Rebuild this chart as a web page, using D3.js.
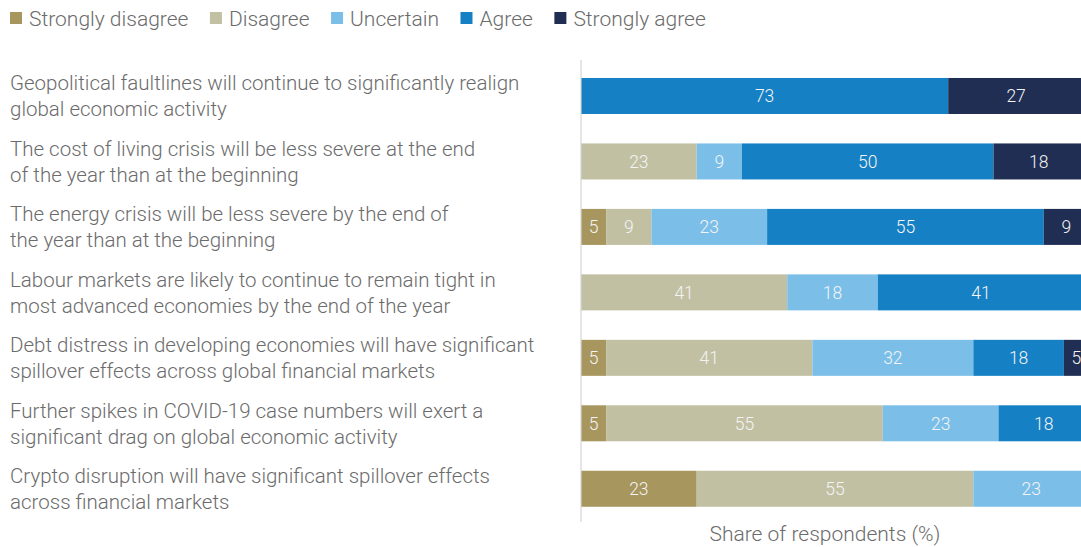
<!DOCTYPE html>
<html>
<head>
<meta charset="utf-8">
<script src="https://cdn.jsdelivr.net/npm/d3@7"></script>
<style>
  html, body { margin: 0; padding: 0; background: #fff; }
  svg { display: block; font-family: "Roboto", "Liberation Sans", sans-serif; }
</style>
</head>
<body>
<svg id="chart" width="1081" height="547"></svg>
<script>
// Survey statements (each wrapped onto two lines)
const statements = [
  ["Geopolitical faultlines will continue to significantly realign", "global economic activity"],
  ["The cost of living crisis will be less severe at the end", "of the year than at the beginning"],
  ["The energy crisis will be less severe by the end of", "the year than at the beginning"],
  ["Labour markets are likely to continue to remain tight in", "most advanced economies by the end of the year"],
  ["Debt distress in developing economies will have significant", "spillover effects across global financial markets"],
  ["Further spikes in COVID-19 case numbers will exert a", "significant drag on global economic activity"],
  ["Crypto disruption will have significant spillover effects", "across financial markets"]
];

const responses = ["Strongly disagree", "Disagree", "Uncertain", "Agree", "Strongly agree"];

// Share of respondents (%) per statement, one array per response
const stronglyDisagree = [0, 0, 5, 0, 5, 5, 23];
const disagree         = [0, 23, 9, 41, 41, 55, 55];
const uncertain        = [0, 9, 23, 18, 32, 23, 23];
const agree            = [73, 50, 55, 41, 18, 18, 0];
const stronglyAgree    = [27, 18, 9, 0, 5, 0, 0];

const colors = ["#a8965f", "#c1c0a3", "#7bbfe9", "#1580c3", "#1f2e52"];

const axisTitle = "Share of respondents (%)";

const rows = statements.map((s, i) => ({
  id: i,
  "Strongly disagree": stronglyDisagree[i],
  "Disagree": disagree[i],
  "Uncertain": uncertain[i],
  "Agree": agree[i],
  "Strongly agree": stronglyAgree[i]
}));

const svg = d3.select("#chart");

const x = d3.scaleLinear().domain([0, 100]).range([581, 1084]);
const y = d3.scaleBand()
  .domain(rows.map(d => d.id))
  .range([63.25, 521.5])
  .paddingInner(0.45)
  .paddingOuter(0.225);

const color = d3.scaleOrdinal().domain(responses).range(colors);

const series = d3.stack().keys(responses)(rows);

// Stacked bars
const layer = svg.append("g")
  .selectAll("g")
  .data(series)
  .join("g")
  .attr("fill", d => color(d.key));

layer.selectAll("rect")
  .data(d => d.filter(p => p[1] - p[0] > 0))
  .join("rect")
  .attr("x", p => x(p[0]))
  .attr("y", p => y(p.data.id))
  .attr("width", p => x(p[1]) - x(p[0]))
  .attr("height", y.bandwidth());

// Value labels inside segments
layer.selectAll("text")
  .data(d => d.filter(p => p[1] - p[0] > 0))
  .join("text")
  .attr("x", p => (x(p[0]) + x(p[1])) / 2)
  .attr("y", p => y(p.data.id) + y.bandwidth() / 2)
  .attr("dy", "0.36em")
  .attr("text-anchor", "middle")
  .attr("fill", "#f4f4f4")
  .attr("font-size", 17.5)
  .attr("font-weight", 300)
  .text(p => p[1] - p[0]);

// Vertical baseline
svg.append("line")
  .attr("x1", x(0)).attr("x2", x(0))
  .attr("y1", 60).attr("y2", 522)
  .attr("stroke", "#d4d4d4")
  .attr("stroke-width", 1.2);

// Statement labels
const labels = svg.append("g")
  .selectAll("text")
  .data(statements)
  .join("text")
  .attr("x", 10)
  .attr("y", (d, i) => y(i) + y.bandwidth() / 2)
  .attr("fill", "#6b6b6b")
  .attr("font-size", 20.5)
  .attr("font-weight", 300);

labels.selectAll("tspan")
  .data(d => d)
  .join("tspan")
  .attr("x", 10)
  .attr("dy", (d, j) => j === 0 ? "-0.28em" : "1.27em")
  .text(d => d);

// Legend
const legend = svg.append("g")
  .selectAll("g")
  .data(responses)
  .join("g");

let lx = 10;
legend.each(function(d) {
  const g = d3.select(this).attr("transform", `translate(${lx},0)`);
  g.append("rect")
    .attr("x", 0).attr("y", 12)
    .attr("width", 12).attr("height", 12)
    .attr("fill", color(d));
  const t = g.append("text")
    .attr("x", 19).attr("y", 18)
    .attr("dy", "0.36em")
    .attr("fill", "#6b6b6b")
    .attr("font-size", 21)
    .attr("font-weight", 300)
    .text(d);
  lx += 19 + t.node().getComputedTextLength() + 21.5;
});

// Axis title
svg.append("text")
  .attr("x", 825)
  .attr("y", 533)
  .attr("dy", "0.36em")
  .attr("text-anchor", "middle")
  .attr("fill", "#6b6b6b")
  .attr("font-size", 21)
  .attr("font-weight", 300)
  .text(axisTitle);
</script>
</body>
</html>
